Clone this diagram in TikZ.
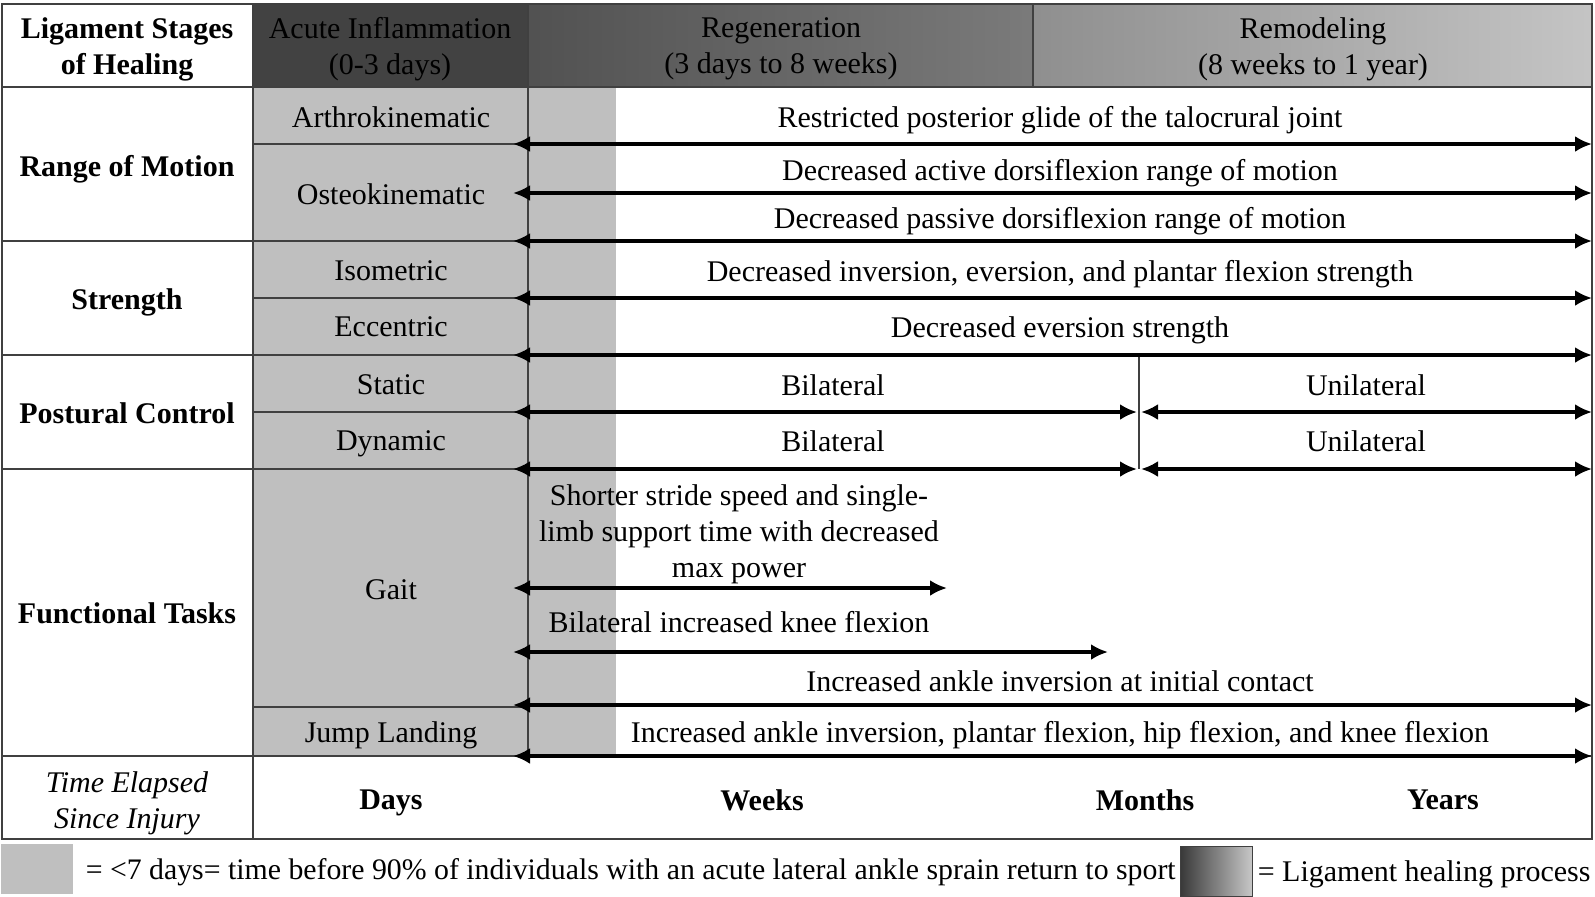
\documentclass[tikz,border=0pt]{standalone}
\usepackage{fontspec}
\setmainfont{Liberation Serif}
\usetikzlibrary{arrows.meta,positioning}

\begin{document}
\begin{tikzpicture}
  [x=0.5pt,y=-0.5pt,
   every node/.style={font=\fontsize{15}{18}\selectfont,align=center,inner sep=0pt,text depth=0pt},
   group/.style={font=\fontsize{15}{18}\selectfont\bfseries},
   grid/.style={draw=black!75,line width=0.6pt},
   span/.style={line width=1.8pt,{Latex[length=8.5pt,width=8pt]}-{Latex[length=8.5pt,width=8pt]}},
   keybox/.style={minimum width=36pt,minimum height=25pt}]
  \useasboundingbox (0,0) rectangle (1595,896);

  % shading of the stages and of the return-to-sport window
  \fill[black!74] (253,5) rectangle (528,87);
  \shade[left color=black!68,right color=black!52] (528,5) rectangle (1033,87);
  \shade[left color=black!44,right color=black!23] (1033,5) rectangle (1592,87);
  \fill[black!25] (253,87) rectangle (616,756);

  % table lines
  \draw[grid] (2,4) rectangle (1592,839);
  \draw[grid] (253,4) -- (253,839);
  \draw[grid] (528,4) -- (528,756);
  \draw[grid] (1033,4) -- (1033,87);
  \draw[grid] (1139,355) -- (1139,469);
  \draw[grid] (2,87) -- (1592,87);
  \foreach \y in {241,355,469,756}
    \draw[grid] (2,\y) -- (528,\y);
  \draw[grid] (528,756) -- (1592,756);
  \foreach \y in {144,298,412,707}
    \draw[grid] (253,\y) -- (528,\y);

  % header
  \node[group] (stages) at (127,46) {Ligament Stages\\of Healing};
  \node (acute) at (390,46) {Acute Inflammation\\(0-3 days)};
  \node (regen) at (781,46) {Regeneration\\(3 days to 8 weeks)};
  \node (remod) at (1313,46) {Remodeling\\(8 weeks to 1 year)};

  % row groups
  \node[group] (rom) at (127,166) {Range of Motion};
  \node[group] (strength) at (127,299) {Strength};
  \node[group] (postural) at (127,413) {Postural Control};
  \node[group] (functional) at (127,613) {Functional Tasks};
  \node[font=\fontsize{15}{18}\selectfont\itshape] (elapsed) at (127,800) {Time Elapsed\\Since Injury};

  % sub rows
  \node (arthro) at (391,117) {Arthrokinematic};
  \node (osteo) at (391,194) {Osteokinematic};
  \node (isometric) at (391,271) {Isometric};
  \node (eccentric) at (391,327) {Eccentric};
  \node (static) at (391,385) {Static};
  \node (dynamic) at (391,441) {Dynamic};
  \node (gait) at (391,590) {Gait};
  \node (jump) at (391,732) {Jump Landing};

  % findings
  \node (glide) at (1060,117) {Restricted posterior glide of the talocrural joint};
  \node (active) at (1060,170) {Decreased active dorsiflexion range of motion};
  \node (passive) at (1060,218) {Decreased passive dorsiflexion range of motion};
  \node (invev) at (1060,271) {Decreased inversion, eversion, and plantar flexion strength};
  \node (ev) at (1060,327) {Decreased eversion strength};
  \node (statbi) at (833,385) {Bilateral};
  \node (statuni) at (1366,385) {Unilateral};
  \node (dynbi) at (833,441) {Bilateral};
  \node (dynuni) at (1366,441) {Unilateral};
  \node (stride) at (739,531) {Shorter stride speed and single-\\limb support time with decreased\\max power};
  \node (knee) at (739,622) {Bilateral increased knee flexion};
  \node (contact) at (1060,681) {Increased ankle inversion at initial contact};
  \node (landing) at (1060,732) {Increased ankle inversion, plantar flexion, hip flexion, and knee flexion};

  % time scale
  \node[group] (days) at (391,800) {Days};
  \node[group] (weeks) at (762,800) {Weeks};
  \node[group] (months) at (1145,800) {Months};
  \node[group] (years) at (1443,800) {Years};

  % arrow ends
  \coordinate (g1) at (513,144);  \coordinate (h1) at (1592,144);
  \coordinate (g2) at (513,193);  \coordinate (h2) at (1592,193);
  \coordinate (g3) at (513,241);  \coordinate (h3) at (1592,241);
  \coordinate (g4) at (513,298);  \coordinate (h4) at (1592,298);
  \coordinate (g5) at (513,355);  \coordinate (h5) at (1592,355);
  \coordinate (g6) at (513,412);  \coordinate (m6) at (1137,412);
  \coordinate (n6) at (1141,412); \coordinate (h6) at (1592,412);
  \coordinate (g7) at (513,469);  \coordinate (m7) at (1137,469);
  \coordinate (n7) at (1141,469); \coordinate (h7) at (1592,469);
  \coordinate (g8) at (513,588);  \coordinate (h8) at (947,588);
  \coordinate (g9) at (513,652);  \coordinate (h9) at (1108,652);
  \coordinate (g10) at (513,705); \coordinate (h10) at (1592,705);
  \coordinate (g11) at (513,756); \coordinate (h11) at (1592,756);

  \foreach \from/\to in {g1/h1, g2/h2, g3/h3, g4/h4, g5/h5, g6/m6, n6/h6, g7/m7, n7/h7, g8/h8, g9/h9, g10/h10, g11/h11}
    \draw[span] (\from) -- (\to);

  % legend
  \node[keybox,fill=black!25] (keysport) at (37,869) {};
  \node[right=6pt of keysport,font=\fontsize{14.9}{18}\selectfont] (sporttext) {= <7 days= time before 90\% of individuals with an acute lateral ankle sprain return to sport};
  \node[keybox,draw=black!75,left color=black!78,right color=black!22] (keyheal) at (1216,871) {};
  \node[right=2.5pt of keyheal] (healtext) {= Ligament healing process};
\end{tikzpicture}
\end{document}
